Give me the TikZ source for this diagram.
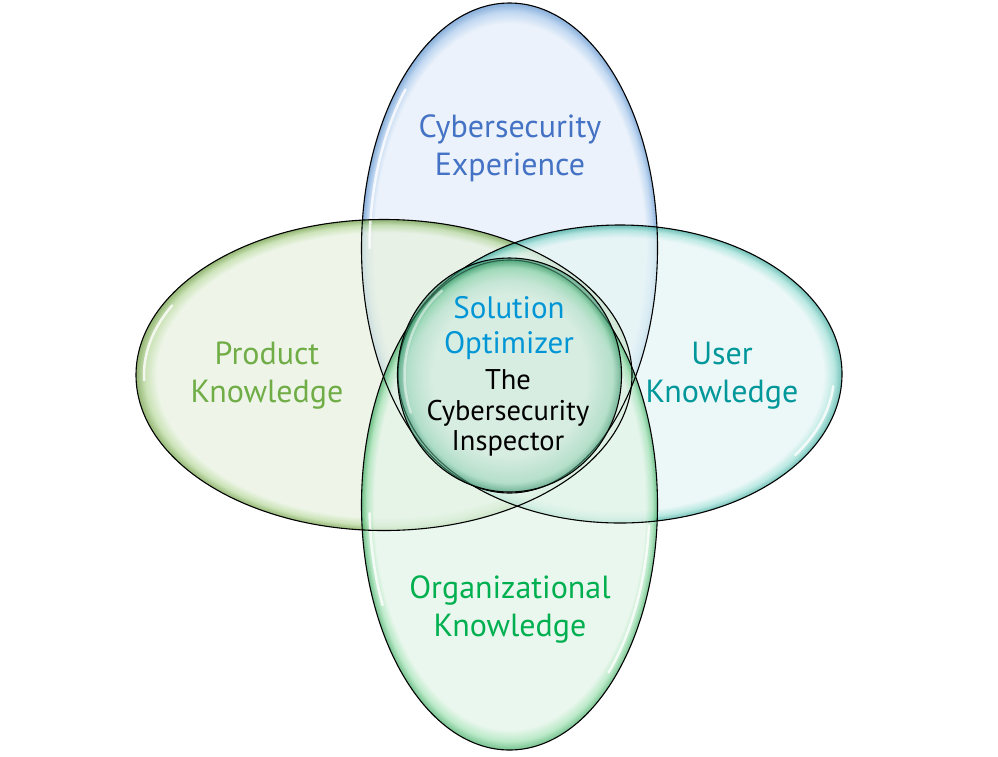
\documentclass[tikz,border=0pt]{standalone}
\usepackage{fontspec}
\setmainfont{PT Sans}
\usetikzlibrary{shapes.geometric}

\definecolor{blueLight}{HTML}{E4EDF9}
\definecolor{blueMid}{HTML}{A9C9EC}
\definecolor{blueDark}{HTML}{5A8FCB}
\definecolor{prodLight}{HTML}{E7F1DF}
\definecolor{prodMid}{HTML}{B7D89C}
\definecolor{prodDark}{HTML}{6A9A3E}
\definecolor{userLight}{HTML}{E5F5F5}
\definecolor{userMid}{HTML}{A0E0D7}
\definecolor{userDark}{HTML}{3AA89C}
\definecolor{orgLight}{HTML}{E2F4E7}
\definecolor{orgMid}{HTML}{A0E1B3}
\definecolor{orgDark}{HTML}{3FAA62}
\definecolor{coreLight}{HTML}{D2EADF}
\definecolor{coreMid}{HTML}{98D3B6}
\definecolor{coreDark}{HTML}{2C8A63}
\definecolor{cyberText}{HTML}{4472C4}
\definecolor{prodText}{HTML}{70AD47}
\definecolor{userText}{HTML}{00979A}
\definecolor{orgText}{HTML}{00B050}
\definecolor{solText}{HTML}{0096D6}

\pgfdeclareradialshading{blueglass}{\pgfpoint{0bp}{0bp}}{color(0bp)=(blueLight); color(22.9bp)=(blueLight); color(24.1bp)=(blueMid); color(25bp)=(blueDark); color(50bp)=(blueDark)}
\pgfdeclareradialshading{prodglass}{\pgfpoint{0bp}{0bp}}{color(0bp)=(prodLight); color(22.9bp)=(prodLight); color(24.1bp)=(prodMid); color(25bp)=(prodDark); color(50bp)=(prodDark)}
\pgfdeclareradialshading{userglass}{\pgfpoint{0bp}{0bp}}{color(0bp)=(userLight); color(22.9bp)=(userLight); color(24.1bp)=(userMid); color(25bp)=(userDark); color(50bp)=(userDark)}
\pgfdeclareradialshading{orgglass}{\pgfpoint{0bp}{0bp}}{color(0bp)=(orgLight); color(22.9bp)=(orgLight); color(24.1bp)=(orgMid); color(25bp)=(orgDark); color(50bp)=(orgDark)}
\pgfdeclareradialshading{coreglass}{\pgfpoint{0bp}{0bp}}{color(0bp)=(coreLight); color(17bp)=(coreLight); color(23bp)=(coreMid); color(25bp)=(coreDark); color(50bp)=(coreDark)}

\tikzset{
  glass/.style={ellipse, inner sep=0pt, shade, fill opacity=0.72},
  rim/.style={draw=black, line width=1.1pt},
  shine/.style={draw=white, line width=2.5pt, opacity=0.8, line cap=round},
  bigtext/.style={font=\fontsize{32}{38}\selectfont, align=center},
  coretext/.style={font=\fontsize{28.5}{30.5}\selectfont, align=center},
}

\begin{document}
\begin{tikzpicture}[x=1pt, y=-1pt]
\useasboundingbox (0,0) rectangle (998,756);

% glass ellipses
\node[glass, shading=blueglass, minimum width=296pt, minimum height=490pt] (cyber) at (509.5,248) {};
\node[glass, shading=prodglass, minimum width=496pt, minimum height=311pt] (prod) at (384,375) {};
\node[glass, shading=userglass, minimum width=444pt, minimum height=298pt] (user) at (620,374) {};
\node[glass, shading=orgglass, minimum width=296pt, minimum height=490pt] (org) at (509.5,505) {};

% highlights
\draw[shine] (cyber.center) ++(180:140 and 237) arc[start angle=180, end angle=222, x radius=140, y radius=237];
\draw[shine] (prod.center) ++(178:240 and 148) arc[start angle=178, end angle=208, x radius=240, y radius=148];
\draw[shine] (user.center) ++(5:214 and 141) arc[start angle=5, end angle=35, x radius=214, y radius=141];
\draw[shine] (org.center) ++(5:140 and 237) arc[start angle=5, end angle=45, x radius=140, y radius=237];
\draw[shine] (org.center) ++(178:140 and 237) arc[start angle=178, end angle=155, x radius=140, y radius=237];

% outlines
\draw[rim] (cyber.center) ellipse[x radius=148, y radius=245];
\draw[rim] (prod.center) ellipse[x radius=248, y radius=155.5];
\draw[rim] (user.center) ellipse[x radius=222, y radius=149];
\draw[rim] (org.center) ellipse[x radius=148, y radius=245];

% core circle
\node[glass, shading=coreglass, fill opacity=0.6, minimum width=224pt, minimum height=234pt] (core) at (509.5,375) {};
\draw[shine, opacity=0.5] (core.center) ++(160:105 and 110) arc[start angle=160, end angle=230, x radius=105, y radius=110];
\draw[rim] (core.center) ellipse[x radius=112, y radius=117];

% labels
\node[bigtext, text=cyberText] (cyberlbl) at (510,148) {Cybersecurity\\Experience};
\node[bigtext, text=prodText] (prodlbl) at (267,376) {Product\\Knowledge};
\node[bigtext, text=userText] (userlbl) at (722,376) {User\\Knowledge};
\node[bigtext, text=orgText] (orglbl) at (510,609) {Organizational\\Knowledge};
\node[font=\fontsize{31}{35}\selectfont, align=center, text=solText] (sollbl) at (509,328) {Solution\\Optimizer};
\node[coretext, text=black] (insplbl) at (508,413) {The\\Cybersecurity\\Inspector};
\end{tikzpicture}
\end{document}
